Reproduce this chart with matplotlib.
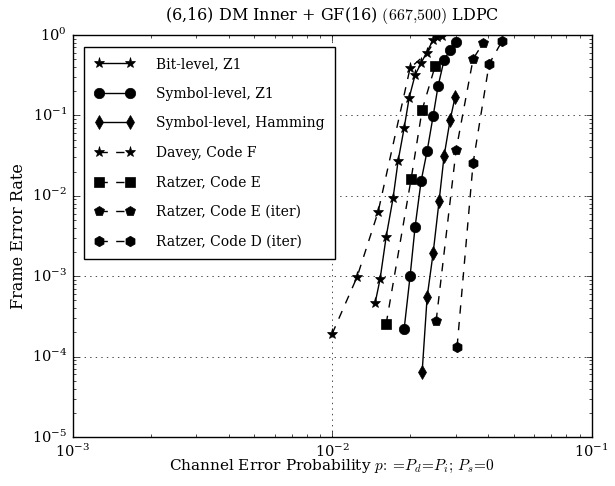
import matplotlib
matplotlib.use("Agg")
import matplotlib.pyplot as plt

# channel error probability p / frame error rate
bit_z1_p = [0.01465, 0.01531, 0.01615, 0.01718, 0.01796, 0.01895, 0.01981, 0.02088, 0.02203, 0.02451, 0.02653]
bit_z1_fer = [0.000464, 0.000923, 0.00307, 0.00939, 0.0271, 0.0697, 0.165, 0.318, 0.448, 0.867, 0.972]

sym_z1_p = [0.01895, 0.01998, 0.02088, 0.02203, 0.02324, 0.02451, 0.02561, 0.02701, 0.02849, 0.03005]
sym_z1_fer = [0.000220, 0.001006, 0.00409, 0.0153, 0.0361, 0.0983, 0.232, 0.489, 0.651, 0.818]

sym_ham_p = [0.02223, 0.02324, 0.02451, 0.02584, 0.02701, 0.02849, 0.02978]
sym_ham_fer = [0.0000643, 0.000551, 0.00194, 0.00862, 0.0313, 0.0877, 0.169]

davey_p = [0.0100, 0.01248, 0.01504, 0.01998, 0.02324, 0.02539]
davey_fer = [0.000191, 0.000977, 0.00629, 0.389, 0.597, 0.944]

ratzer_e_p = [0.01615, 0.02016, 0.02223, 0.02495]
ratzer_e_fer = [0.000254, 0.0162, 0.117, 0.412]

ratzer_e_iter_p = [0.02517, 0.03005, 0.03494, 0.03819]
ratzer_e_iter_fer = [0.000277, 0.0371, 0.503, 0.795]

ratzer_d_iter_p = [0.03031, 0.03494, 0.04027, 0.04520]
ratzer_d_iter_fer = [0.000132, 0.0256, 0.436, 0.842]

plt.style.use("classic")
plt.rcParams["font.family"] = "DejaVu Serif"
plt.rcParams["mathtext.fontset"] = "cm"
plt.rcParams["figure.facecolor"] = "white"
plt.rcParams["savefig.facecolor"] = "white"
plt.rcParams["xtick.labelsize"] = 10.5
plt.rcParams["ytick.labelsize"] = 10.5

fig = plt.figure(figsize=(6.15, 4.86), dpi=100)
ax = fig.add_axes([0.118, 0.101, 0.844, 0.827])

ms = 7.5
ax.loglog(bit_z1_p, bit_z1_fer, "k*-", ms=ms + 0.5, label="Bit-level, Z1")
ax.loglog(sym_z1_p, sym_z1_fer, "ko-", ms=ms, label="Symbol-level, Z1")
ax.loglog(sym_ham_p, sym_ham_fer, "kd-", ms=ms, label="Symbol-level, Hamming")
ax.loglog(davey_p, davey_fer, "k*--", ms=ms + 0.5, label="Davey, Code F")
ax.loglog(ratzer_e_p, ratzer_e_fer, "ks--", ms=ms, label="Ratzer, Code E")
ax.loglog(ratzer_e_iter_p, ratzer_e_iter_fer, "kp--", ms=ms, label="Ratzer, Code E (iter)")
ax.loglog(ratzer_d_iter_p, ratzer_d_iter_fer, "kh--", ms=ms, label="Ratzer, Code D (iter)")

ax.set_xlim(1e-3, 1e-1)
ax.set_ylim(1e-5, 1)
ax.grid(True, which="major", color="k", linestyle=":")
ax.set_title("(6,16) DM Inner + GF(16) $(667{,}500)$ LDPC", fontsize=11.5, y=1.02)
ax.set_xlabel(r"Channel Error Probability $p\!:=\!P_d\!=\!P_i;\,P_s\!=\!0$", fontsize=11, labelpad=-1)
ax.set_ylabel("Frame Error Rate", fontsize=11.5, labelpad=3)
ax.legend(loc="upper left", numpoints=2, fontsize=10, labelspacing=1.12,
          borderpad=0.75, handlelength=2.85, handletextpad=1.55, borderaxespad=0.85)

fig.savefig("out.png", dpi=100)
